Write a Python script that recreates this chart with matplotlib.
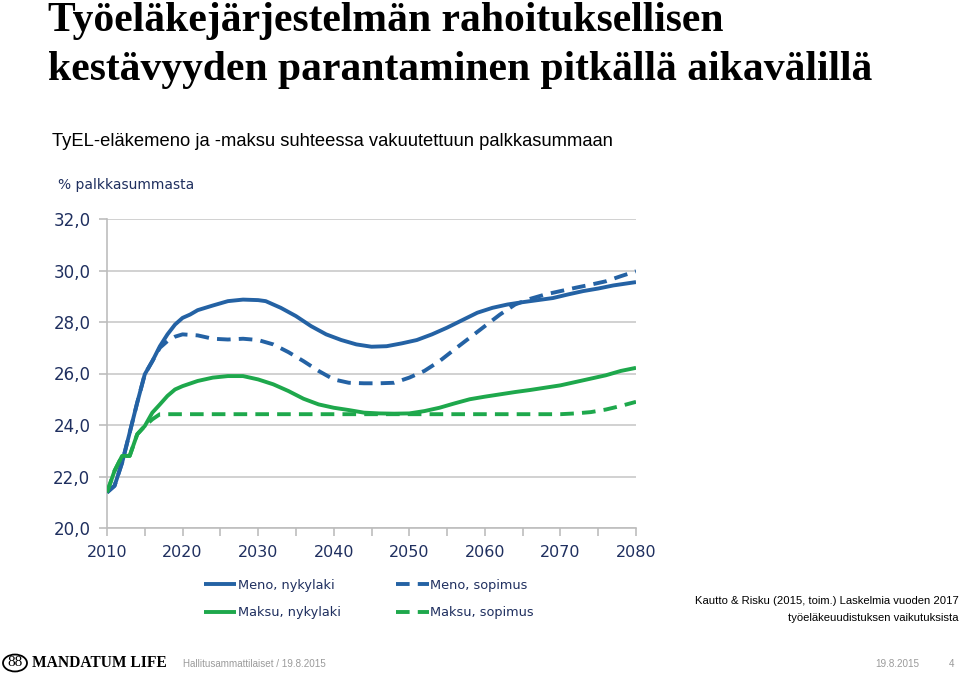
import matplotlib
matplotlib.use("Agg")
import matplotlib.pyplot as plt
from matplotlib.patches import Circle

# ---------------- data ----------------
meno_ny_years = [2010, 2011, 2012, 2013, 2014, 2015, 2016, 2017, 2018, 2019, 2020, 2021, 2022, 2024,
                 2026, 2028, 2030, 2031, 2033, 2035, 2037, 2039, 2041, 2043, 2045, 2047, 2049,
                 2051, 2053, 2055, 2057, 2059, 2061, 2063, 2065, 2067, 2069, 2071, 2073, 2075,
                 2077, 2080]
meno_ny = [21.38, 21.64, 22.54, 23.70, 24.87, 25.97, 26.48, 27.06, 27.52, 27.90, 28.16, 28.29, 28.46,
           28.64, 28.81, 28.87, 28.85, 28.81, 28.55, 28.23, 27.84, 27.52, 27.30, 27.13, 27.04,
           27.06, 27.17, 27.30, 27.52, 27.78, 28.07, 28.36, 28.55, 28.68, 28.77, 28.85, 28.93,
           29.07, 29.20, 29.30, 29.42, 29.55]

meno_sop_years = [2010, 2011, 2012, 2013, 2014, 2015, 2016, 2017, 2018, 2019, 2020, 2022, 2024, 2026,
                  2028, 2030, 2032, 2034, 2036, 2038, 2040, 2042, 2044, 2046, 2048, 2050, 2052,
                  2054, 2056, 2058, 2060, 2062, 2064, 2066, 2068, 2070, 2072, 2074, 2076, 2078,
                  2080]
meno_sop = [21.38, 21.64, 22.54, 23.70, 24.87, 25.97, 26.48, 27.00, 27.26, 27.43, 27.52, 27.48, 27.35,
            27.32, 27.35, 27.30, 27.13, 26.83, 26.48, 26.10, 25.77, 25.64, 25.62, 25.62, 25.64,
            25.84, 26.10, 26.48, 26.94, 27.39, 27.84, 28.29, 28.68, 28.90, 29.07, 29.20, 29.33,
            29.45, 29.58, 29.78, 29.97]

maksu_ny_years = [2010, 2011, 2012, 2013, 2014, 2015, 2016, 2017, 2018, 2019, 2020, 2022, 2024, 2026,
                  2028, 2030, 2032, 2034, 2036, 2038, 2040, 2042, 2044, 2046, 2048, 2050, 2052,
                  2054, 2056, 2058, 2060, 2062, 2064, 2066, 2068, 2070, 2072, 2074, 2076, 2078,
                  2080]
maksu_ny = [21.38, 22.22, 22.80, 22.80, 23.64, 23.96, 24.48, 24.80, 25.13, 25.38, 25.51, 25.71, 25.84,
            25.90, 25.90, 25.77, 25.58, 25.32, 25.02, 24.80, 24.67, 24.58, 24.48, 24.45, 24.44,
            24.45, 24.54, 24.67, 24.84, 25.00, 25.10, 25.19, 25.28, 25.36, 25.45, 25.54, 25.67,
            25.80, 25.93, 26.10, 26.22]

maksu_sop_years = [2010, 2011, 2012, 2013, 2014, 2015, 2016, 2017, 2020, 2030, 2040, 2050, 2060,
                   2070, 2072, 2074, 2076, 2078, 2080]
maksu_sop = [21.38, 22.22, 22.80, 22.80, 23.64, 23.96, 24.22, 24.42, 24.42, 24.42, 24.42, 24.42,
             24.42, 24.42, 24.45, 24.50, 24.60, 24.74, 24.90]

labels = ["Meno, nykylaki", "Maksu, nykylaki", "Meno, sopimus", "Maksu, sopimus"]
y_ticks = [20, 22, 24, 26, 28, 30, 32]
x_major = [2010, 2020, 2030, 2040, 2050, 2060, 2070, 2080]
x_minor = [2015, 2025, 2035, 2045, 2055, 2065, 2075]

title_lines = ["Työeläkejärjestelmän rahoituksellisen", "kestävyyden parantaminen pitkällä aikavälillä"]
subtitle = "TyEL-eläkemeno ja -maksu suhteessa vakuutettuun palkkasummaan"
ylabel = "% palkkasummasta"
source = ["Kautto & Risku (2015, toim.) Laskelmia vuoden 2017", "työeläkeuudistuksen vaikutuksista"]

# ---------------- style ----------------
BLUE = "#2462A4"
GREEN = "#1EA84C"
NAVY = "#1F2F5F"
GRID = "#C9C9C9"
W, H = 960, 677
NARROW = ["Liberation Sans Narrow", "Liberation Sans"]

fig = plt.figure(figsize=(9.6, 6.77), dpi=100)
fig.patch.set_facecolor("white")

def fx(px):
    return px / W

def fy(py):
    return 1 - py / H

ax = fig.add_axes([fx(107), fy(528), fx(636) - fx(107), fy(219) - fy(528)])

lw = 2.8
dash = (3.5, 2.1)
l1, = ax.plot(meno_ny_years, meno_ny, color=BLUE, lw=lw, solid_capstyle="butt", zorder=3)
l3, = ax.plot(meno_sop_years, meno_sop, color=BLUE, lw=lw, dashes=dash, zorder=4)
l2, = ax.plot(maksu_ny_years, maksu_ny, color=GREEN, lw=lw, solid_capstyle="butt", zorder=3)
l4, = ax.plot(maksu_sop_years, maksu_sop, color=GREEN, lw=lw, dashes=dash, zorder=4)

ax.set_xlim(2010, 2080)
ax.set_ylim(20, 32)
ax.set_yticks(y_ticks)
ax.set_yticklabels([f"{v:.1f}".replace(".", ",") for v in y_ticks])
ax.set_xticks(x_major)
ax.set_xticklabels([str(v) for v in x_major])
ax.set_xticks(x_minor, minor=True)
ax.grid(axis="y", color=GRID, lw=1.2, zorder=0)
ax.set_axisbelow(True)
for s in ["top", "right"]:
    ax.spines[s].set_visible(False)
for s in ["left", "bottom"]:
    ax.spines[s].set_color("#BDBDBD")
    ax.spines[s].set_linewidth(1.2)
ax.tick_params(axis="both", which="both", color="#BDBDBD", width=1.2, length=6, direction="out")
ax.tick_params(axis="y", labelsize=12, labelcolor=NAVY, pad=6)
ax.tick_params(axis="x", labelsize=11.5, labelcolor=NAVY, pad=6.5)
for t in ax.get_xticklabels() + ax.get_yticklabels():
    t.set_fontfamily("DejaVu Sans")

# legend
handles = [l1, l2, l3, l4]
ax.legend(handles, labels, ncol=2, loc="upper left",
          bbox_to_anchor=(fx(204), fy(579)), bbox_transform=fig.transFigure,
          frameon=False, fontsize=9.3, handlelength=2.5, handletextpad=0.12,
          columnspacing=4.3, labelspacing=1.1, labelcolor=NAVY, borderaxespad=0,
          borderpad=0)

# texts
for i, line in enumerate(title_lines):
    fig.text(fx(48), fy(31 + i * 49), line, fontsize=30, fontweight="bold",
             family="Liberation Serif", va="baseline", ha="left", color="black")
fig.text(fx(52), fy(141), subtitle, fontsize=13.2, family="Liberation Sans",
         va="center", ha="left", color="black")
fig.text(fx(58), fy(185), ylabel, fontsize=10, family="DejaVu Sans",
         va="center", ha="left", color=NAVY)
for i, line in enumerate(source):
    fig.text(fx(959), fy(601 + i * 17), line, fontsize=8.1, family=NARROW,
             va="center", ha="right", color="black")

# footer
fig.patches.append(Circle((fx(15), fy(663)), 12 / W, transform=fig.transFigure,
                          fill=False, lw=1.3, ec="black"))
fig.text(fx(15), fy(663), "88", fontsize=11, family="Liberation Serif", ha="center",
         va="center", color="black")
fig.text(fx(32), fy(663), "MANDATUM LIFE", fontsize=11.2, fontweight="bold",
         family="Liberation Serif", ha="left", va="center", color="black")
fig.text(fx(183), fy(664), "Hallitusammattilaiset / 19.8.2015", fontsize=7.1, family=NARROW,
         ha="left", va="center", color="#9A9A9A")
fig.text(fx(875), fy(664), "19.8.2015", fontsize=7.1, family=NARROW,
         ha="left", va="center", color="#9A9A9A")
fig.text(fx(952), fy(664), "4", fontsize=7.1, family=NARROW,
         ha="center", va="center", color="#9A9A9A")

fig.savefig("out.png", dpi=100, facecolor="white")
